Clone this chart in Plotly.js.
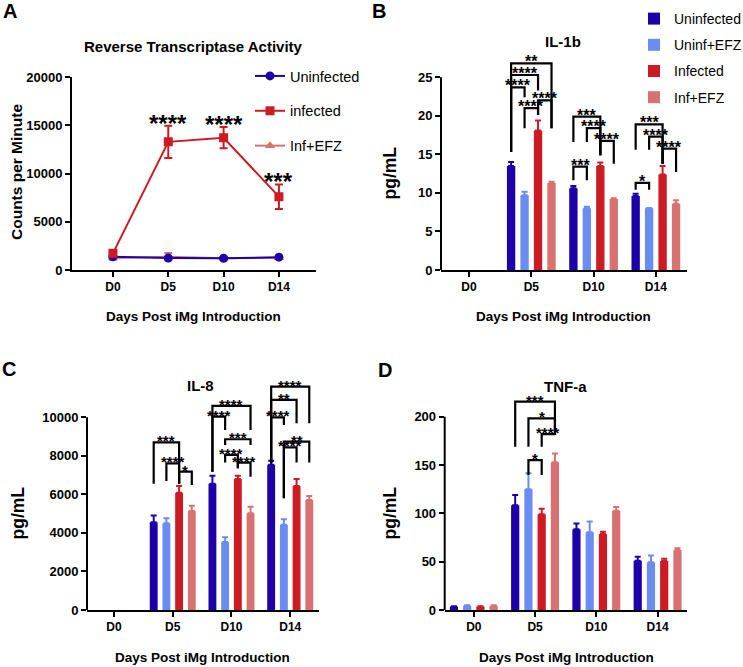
<!DOCTYPE html>
<html><head><meta charset="utf-8">
<script src="https://cdn.plot.ly/plotly-3.0.1.min.js"></script>
<style>html,body{margin:0;padding:0;background:#fff}#chart{width:743px;height:667px}</style>
</head><body><div id="chart"></div>
<script>
// ---------------- DATA ----------------
const days = ['D0', 'D5', 'D10', 'D14'];
const dayIdx = [0, 1, 2, 3];

// Panel A: Reverse Transcriptase Activity (counts per minute)
const rtUninf = [1380, 1240, 1220, 1330];
const rtUninfErr = [120, 100, 90, 110];
const rtInf = [1730, 13300, 13730, 7610];
const rtInfErr = [200, 1680, 1100, 1270];
const rtEfz = [1250, 1380, 1220, 1260];
const rtEfzErr = [150, 380, 110, 120];
const rtStars = ['', '****', '****', '***'];

// Panel B: IL-1b (pg/mL)
const il1bUninf = [null, 13.5, 10.6, 9.6];
const il1bUninfErr = [0, 0.5, 0.3, 0.3];
const il1bUninfEfz = [null, 9.7, 8.0, 8.0];
const il1bUninfEfzErr = [0, 0.45, 0.2, 0.05];
const il1bInf = [null, 18.1, 13.5, 12.4];
const il1bInfErr = [0, 1.3, 0.45, 1.1];
const il1bInfEfz = [null, 11.3, 9.2, 8.6];
const il1bInfEfzErr = [0, 0.15, 0.1, 0.45];

// Panel C: IL-8 (pg/mL)
const il8Uninf = [null, 4550, 6550, 7540];
const il8UninfErr = [0, 350, 420, 210];
const il8UninfEfz = [null, 4500, 3530, 4430];
const il8UninfEfzErr = [0, 260, 240, 280];
const il8Inf = [null, 6090, 6800, 6440];
const il8InfErr = [0, 350, 170, 360];
const il8InfEfz = [null, 5140, 5020, 5710];
const il8InfEfzErr = [0, 270, 340, 200];

// Panel D: TNF-a (pg/mL)
const tnfUninf = [3.5, 108.5, 83.5, 51];
const tnfUninfErr = [0.3, 10.5, 6, 4.2];
const tnfUninfEfz = [4.5, 125, 80.5, 49.3];
const tnfUninfEfzErr = [0.3, 16.5, 11, 7];
const tnfInf = [3.5, 99, 78.6, 50.7];
const tnfInfErr = [0.3, 5.8, 2.4, 2.3];
const tnfInfEfz = [4.5, 153, 102.8, 62];
const tnfInfEfzErr = [0.3, 9, 3.7, 1.8];

// Significance comparisons: [day index, bar a, bar b, bracket level, leg a end, leg b end, label]
const sigB = [
  [1, 0, 3, 26.8, 15.3, 18.4, '**'],
  [1, 0, 2, 25.3, 15.3, 23.3, '****'],
  [1, 0, 1, 23.7, 15.3, 22.4, '****'],
  [1, 2, 3, 22.0, 20.1, 18.4, '****'],
  [1, 1, 2, 21.0, 18.4, 20.1, '****'],
  [2, 0, 2, 19.9, 16.6, 14.9, '***'],
  [2, 1, 2, 18.4, 16.6, 14.9, '****'],
  [2, 2, 3, 16.75, 14.9, 13.8, '****'],
  [2, 0, 1, 13.4, 11.65, 11.65, '***'],
  [3, 0, 2, 18.9, 15.6, 13.8, '***'],
  [3, 1, 2, 17.3, 15.6, 13.8, '****'],
  [3, 2, 3, 15.75, 13.8, 12.7, '****'],
  [3, 0, 1, 11.3, 10.4, 10.4, '*']
];
const sigC = [
  [1, 0, 2, 8700, 6550, 6550, '***'],
  [1, 1, 2, 7610, 6700, 6550, '****'],
  [1, 2, 3, 7180, 6550, 6490, '*'],
  [2, 0, 3, 10590, 7180, 9340, '****'],
  [2, 0, 1, 10030, 7180, 9340, '****'],
  [2, 1, 3, 8860, 8560, 8560, '***'],
  [2, 1, 2, 8045, 7650, 7350, '****'],
  [2, 2, 3, 7650, 7350, 6920, '****'],
  [3, 0, 3, 11590, 7610, 9690, '****'],
  [3, 0, 2, 10900, 7610, 9690, '**'],
  [3, 0, 1, 10000, 7610, 9600, '****'],
  [3, 1, 3, 8740, 5800, 7650, '**'],
  [3, 1, 2, 8440, 5800, 7650, '****']
];
const sigD = [
  [1, 0, 3, 215.5, 169, 181, '***'],
  [1, 1, 3, 198.3, 169, 181, '*'],
  [1, 2, 3, 182, 169, 181, '****'],
  [1, 1, 2, 155, 139.7, 139.7, '*']
];

// ---------------- STYLE ----------------
const FONT = 'Liberation Sans, Arial, sans-serif';
const C_UN = '#1e00aa', C_UNEFZ = '#6b8cf1', C_INF = '#cc1b22', C_INFEFZ = '#d87272';
const BARGAP = 0.135, BARGROUPGAP = 0.38, NBARS = 4;
const W = 743, H = 667;
const px = v => v / W;
const py = v => 1 - v / H;

function barX(g, k) {
  const grp = 1 - BARGAP;
  return g - grp / 2 + (k + 0.5) * grp / NBARS;
}

const tickFontX = {family: FONT, size: 12, color: '#000', weight: 'bold'};
const tickFontY = {family: FONT, size: 13, color: '#000', weight: 'bold'};
function xAx(l, r, range, anchor) {
  return {domain: [px(l), px(r)], anchor, range, tickvals: dayIdx, ticktext: days,
    showgrid: false, zeroline: false, showline: true, linecolor: '#000', linewidth: 2,
    ticks: 'outside', ticklen: 5, tickwidth: 2, tickcolor: '#000', tickfont: tickFontX, fixedrange: true};
}
function yAx(bottomPx, topPx, range, tickvals, anchor, showline) {
  return {domain: [py(bottomPx), py(topPx)], anchor, range, tickvals, tickformat: 'd',
    showgrid: false, zeroline: false, showline, linecolor: '#000', linewidth: 2,
    ticks: 'outside', ticklen: 5, tickwidth: 2, tickcolor: '#000', tickfont: tickFontY, fixedrange: true};
}

const traces = [];
// Panel A
function lineTrace(y, err, name, color, symbol, rank) {
  return {type: 'scatter', mode: 'lines+markers', x: dayIdx, y, name, xaxis: 'x', yaxis: 'y',
    line: {color, width: 2}, marker: {color, symbol, size: 9},
    error_y: {type: 'data', array: err, visible: true, color, thickness: 2, width: 4},
    legend: 'legend', legendgroup: 'A' + rank, legendrank: rank, showlegend: true};
}
traces.push(lineTrace(rtEfz, rtEfzErr, 'Inf+EFZ', C_INFEFZ, 'triangle-up', 3));
traces.push(lineTrace(rtUninf, rtUninfErr, 'Uninfected', C_UN, 'circle', 1));
traces.push(lineTrace(rtInf, rtInfErr, 'infected', C_INF, 'square', 2));

// Bar panels
const barNames = ['Uninfected', 'Uninf+EFZ', 'Infected', 'Inf+EFZ'];
const barColors = [C_UN, C_UNEFZ, C_INF, C_INFEFZ];
function barSet(vals, errs, xa, ya, withLegend) {
  vals.forEach((v, k) => {
    traces.push({type: 'bar', x: dayIdx, y: v, name: barNames[k], xaxis: xa, yaxis: ya,
      marker: {color: barColors[k], line: {width: 0}},
      error_y: {type: 'data', symmetric: false, array: errs[k], arrayminus: errs[k].map(() => 0),
        visible: true, color: barColors[k], thickness: 2, width: 3},
      showlegend: withLegend, legend: 'legend2', legendgroup: 'B' + k, legendrank: k + 1});
  });
}
barSet([il1bUninf, il1bUninfEfz, il1bInf, il1bInfEfz],
       [il1bUninfErr, il1bUninfEfzErr, il1bInfErr, il1bInfEfzErr], 'x2', 'y2', true);
barSet([il8Uninf, il8UninfEfz, il8Inf, il8InfEfz],
       [il8UninfErr, il8UninfEfzErr, il8InfErr, il8InfEfzErr], 'x3', 'y3', false);
barSet([tnfUninf, tnfUninfEfz, tnfInf, tnfInfEfz],
       [tnfUninfErr, tnfUninfEfzErr, tnfInfErr, tnfInfEfzErr], 'x4', 'y4', false);

// ---------------- ANNOTATIONS / SHAPES ----------------
const shapes = [];
const annotations = [];
function txt(x, y, text, size, opts) {
  annotations.push(Object.assign({xref: 'paper', yref: 'paper', x: px(x), y: py(y), text, showarrow: false,
    xanchor: 'center', yanchor: 'middle', font: {family: FONT, size, color: '#000', weight: 'bold'}}, opts || {}));
}
// panel letters
txt(10, 11, 'A', 20);
txt(379, 11, 'B', 20);
txt(9, 369, 'C', 20);
txt(385, 370, 'D', 20);
// titles
txt(193.5, 46, 'Reverse Transcriptase Activity', 15);
txt(563, 42, 'IL-1b', 15);
txt(200, 385, 'IL-8', 15);
txt(565, 386, 'TNF-a', 15);
// x-axis titles
txt(193, 317, 'Days Post iMg Introduction', 13.5);
txt(563, 317, 'Days Post iMg Introduction', 13.5);
txt(202, 657, 'Days Post iMg Introduction', 13.5);
txt(566, 657, 'Days Post iMg Introduction', 13.5);
// y-axis titles
txt(16, 172, 'Counts per Minute', 15.5, {textangle: -90});
txt(389.5, 173, 'pg/mL', 17.5, {textangle: -90});
txt(17.5, 513, 'pg/mL', 17.5, {textangle: -90});
txt(389.5, 513, 'pg/mL', 17.5, {textangle: -90});

// stars on panel A
rtStars.forEach((s, i) => {
  if (!s) return;
  annotations.push({xref: 'x', yref: 'y', x: dayIdx[i], y: rtInf[i] + rtInfErr[i], text: s, showarrow: false,
    xanchor: 'center', yanchor: 'bottom', yshift: -13, font: {family: FONT, size: 24, color: '#000', weight: 'bold'}});
});

function brackets(list, xa, ya, fsize) {
  list.forEach(([g, a, b, top, la, lb, label]) => {
    const xa0 = barX(g, a), xb0 = barX(g, b);
    shapes.push({type: 'path', xref: xa, yref: ya,
      path: `M${xa0},${la} L${xa0},${top} L${xb0},${top} L${xb0},${lb}`,
      line: {color: '#000', width: 2.2}});
    annotations.push({xref: xa, yref: ya, x: (xa0 + xb0) / 2, y: top, text: label, showarrow: false,
      xanchor: 'center', yanchor: 'bottom', yshift: -9, font: {family: FONT, size: fsize, color: '#000', weight: 'bold'}});
  });
}
brackets(sigB, 'x2', 'y2', 16);
brackets(sigC, 'x3', 'y3', 15);
brackets(sigD, 'x4', 'y4', 15);

// y axis lines that stop at the top tick
[['x2', 'y2', 25], ['x3', 'y3', 10000], ['x4', 'y4', 200]].forEach(([xa, ya, top]) => {
  shapes.push({type: 'line', xref: xa + ' domain', yref: ya, x0: 0, x1: 0, y0: 0, y1: top,
    line: {color: '#000', width: 2}});
});

const layout = {
  width: W, height: H, margin: {l: 0, r: 0, t: 0, b: 0, autoexpand: false},
  paper_bgcolor: '#fff', plot_bgcolor: 'rgba(0,0,0,0)',
  barmode: 'group', bargap: BARGAP, bargroupgap: BARGROUPGAP,
  font: {family: FONT, color: '#000'},
  xaxis: xAx(72, 316, [-0.74, 3.67], 'y'),
  yaxis: yAx(270, 77.3, [0, 20000], [0, 5000, 10000, 15000, 20000], 'x', true),
  xaxis2: xAx(441, 687, [-0.45, 3.5], 'y2'),
  yaxis2: yAx(270, 270 - 28 * 192.7 / 25, [0, 28], [0, 5, 10, 15, 20, 25], 'x2', false),
  xaxis3: xAx(87, 319, [-0.46, 3.49], 'y3'),
  yaxis3: yAx(610, 610 - 12000 * 192.7 / 10000, [0, 12000], [0, 2000, 4000, 6000, 8000, 10000], 'x3', false),
  xaxis4: xAx(444.7, 687, [-0.475, 3.48], 'y4'),
  yaxis4: yAx(610, 610 - 225 * 193.3 / 200, [0, 225], [0, 50, 100, 150, 200], 'x4', false),
  legend: {x: px(250), y: py(60), xanchor: 'left', yanchor: 'top', bgcolor: 'rgba(0,0,0,0)',
    font: {family: FONT, size: 14.5, color: '#000'}, tracegroupgap: 13, itemclick: false, itemdoubleclick: false},
  legend2: {x: px(634), y: py(3), xanchor: 'left', yanchor: 'top', bgcolor: 'rgba(0,0,0,0)',
    font: {family: FONT, size: 14, color: '#000'}, tracegroupgap: 5, itemclick: false, itemdoubleclick: false},
  shapes, annotations, showlegend: true
};

Plotly.newPlot('chart', traces, layout, {displayModeBar: false, staticPlot: true});
</script></body></html>
